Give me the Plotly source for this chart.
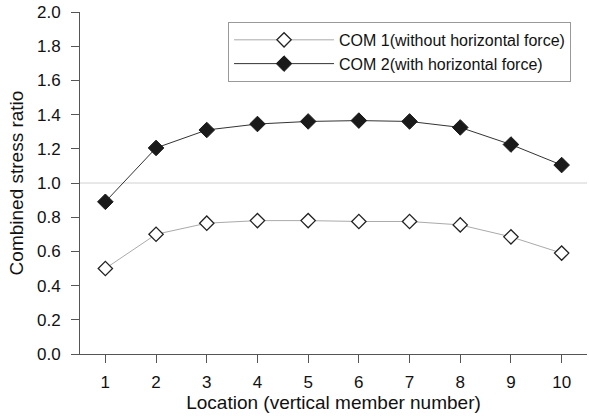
import plotly.graph_objects as go

locations = [1, 2, 3, 4, 5, 6, 7, 8, 9, 10]
com1 = [0.50, 0.70, 0.765, 0.78, 0.78, 0.775, 0.775, 0.755, 0.685, 0.59]
com2 = [0.89, 1.205, 1.31, 1.345, 1.36, 1.365, 1.36, 1.325, 1.225, 1.105]
y_ticks = [0.0, 0.2, 0.4, 0.6, 0.8, 1.0, 1.2, 1.4, 1.6, 1.8, 2.0]

fig = go.Figure()
fig.add_trace(go.Scatter(
    x=locations, y=com1, mode="lines+markers",
    name="COM 1(without horizontal force)",
    line=dict(color="#aaaaaa", width=1),
    marker=dict(symbol="diamond", size=11, color="white",
                line=dict(color="#222222", width=1.3)),
))
fig.add_trace(go.Scatter(
    x=locations, y=com2, mode="lines+markers",
    name="COM 2(with horizontal force)",
    line=dict(color="#333333", width=1),
    marker=dict(symbol="diamond", size=12, color="#1a1a1a",
                line=dict(color="#1a1a1a", width=1)),
))
fig.add_hline(y=1.0, line=dict(color="#d0d0d0", width=1), layer="below")

fig.update_layout(
    width=589, height=416,
    margin=dict(l=80, r=2, t=12, b=62),
    plot_bgcolor="white", paper_bgcolor="white",
    font=dict(family="Liberation Sans", size=16, color="#111111"),
    showlegend=True,
    legend=dict(x=0.292, y=0.971, xanchor="left", yanchor="top",
                bordercolor="#999999", borderwidth=1, bgcolor="white",
                font=dict(size=16), itemwidth=100, tracegroupgap=0),
    xaxis=dict(
        range=[0.5, 10.5], tickvals=locations, ticktext=[str(v) for v in locations],
        showgrid=False, zeroline=False, showline=True, linecolor="#555555",
        ticks="outside", ticklen=8, tickcolor="#555555",
        tickfont=dict(size=17), ticklabelstandoff=5,
        title=dict(text="Location (vertical member number)", standoff=2),
    ),
    yaxis=dict(
        range=[0, 2.0], tickvals=y_ticks, ticktext=[f"{v:.1f}" for v in y_ticks],
        showgrid=False, zeroline=False, showline=True, linecolor="#555555",
        ticks="outside", ticklen=8, tickcolor="#555555",
        tickfont=dict(size=17), ticklabelstandoff=7,
        title=dict(text="Combined stress ratio", standoff=8),
    ),
)
fig.write_html("out.html")
